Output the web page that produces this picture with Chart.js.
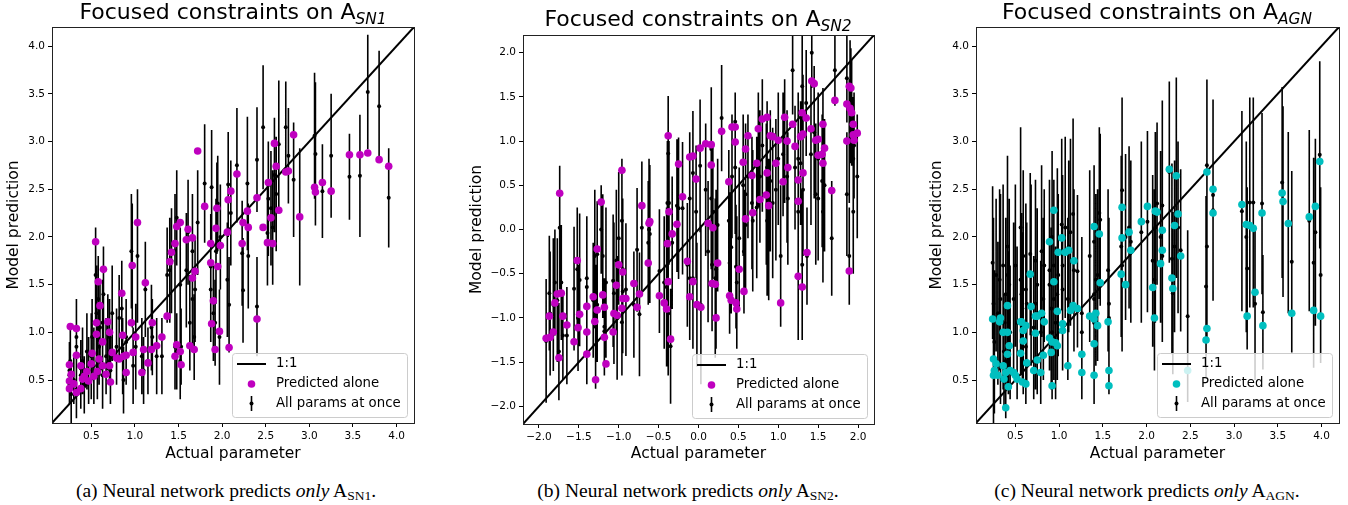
<!DOCTYPE html>
<html>
<head>
<meta charset="utf-8">
<script src="https://cdn.jsdelivr.net/npm/chart.js@4.4.1/dist/chart.umd.min.js"></script>
<style>
  body { margin: 0; background: #fff; width: 1348px; height: 505px; position: relative; overflow: hidden; font-family: 'DejaVu Sans', sans-serif; }
  canvas { position: absolute; top: 0; }
  .title { position: absolute; font-size: 22px; line-height: 1; white-space: nowrap; transform: translateX(-50%); color: #000; }
  .title .sub { position: relative; top: 5px; font-size: 15.4px; font-style: italic; }
  .caption { position: absolute; top: 481px; font-family: 'Liberation Serif', serif; font-size: 19.5px; line-height: 1; white-space: nowrap; transform: translateX(-50%); color: #000; }
  .caption sub { font-size: 13.5px; vertical-align: -3px; }
</style>
</head>
<body>
<canvas id="c1" width="440" height="470" style="left:0;width:440px;height:470px"></canvas>
<canvas id="c2" width="430" height="470" style="left:463px;width:430px;height:470px"></canvas>
<canvas id="c3" width="425" height="470" style="left:923px;width:425px;height:470px"></canvas>

<div class="title" style="left:233px;top:1px">Focused constraints on A<span class="sub">SN1</span></div>
<div class="title" style="left:698px;top:8px">Focused constraints on A<span class="sub">SN2</span></div>
<div class="title" style="left:1157px;top:1px">Focused constraints on A<span class="sub">AGN</span></div>

<div class="caption" style="left:226px">(a) Neural network predicts <i>only</i> A<sub>SN1</sub>.</div>
<div class="caption" style="left:688px">(b) Neural network predicts <i>only</i> A<sub>SN2</sub>.</div>
<div class="caption" style="left:1147px">(c) Neural network predicts <i>only</i> A<sub>AGN</sub>.</div>

<script>
// ---- panel (a): A_SN1 ----
const sn1Lim = [0.05, 4.2];
const sn1Ticks = [0.5, 1.0, 1.5, 2.0, 2.5, 3.0, 3.5, 4.0];
const sn1X = [
  0.25,0.25,0.26,0.25,0.27,0.30,0.33,0.33,0.33,0.38,
  0.38,0.40,0.42,0.45,0.47,0.50,0.51,0.53,0.55,0.56,
  0.56,0.57,0.58,0.59,0.60,0.63,0.63,0.64,0.67,0.69,
  0.71,0.71,0.72,0.74,0.79,0.82,0.85,0.86,0.87,0.90,
  0.90,0.96,0.97,0.98,1.01,1.03,1.08,1.10,1.12,1.15,
  1.19,1.20,1.25,1.31,1.37,1.40,1.42,1.46,1.46,1.48,
  1.48,1.52,1.52,1.53,1.59,1.61,1.63,1.66,1.66,1.68,
  1.69,1.72,1.80,1.87,1.87,1.88,1.90,1.92,1.93,1.94,
  1.95,1.97,1.98,2.06,2.07,2.08,2.10,2.17,2.23,2.24,
  2.29,2.30,2.40,2.40,2.47,2.52,2.53,2.56,2.58,2.60,
  2.62,2.65,2.73,2.76,2.82,2.89,3.06,3.07,3.15,3.25,
  3.46,3.58,3.67,3.80,3.91];
const sn1Alone = [
  0.49,0.41,1.06,0.66,0.56,0.46,1.04,0.76,0.37,0.65,
  0.41,0.51,0.54,0.59,0.49,0.67,0.78,0.54,1.95,1.10,
  0.98,0.59,1.53,0.72,1.28,0.90,0.65,1.66,0.56,1.11,
  1.00,0.65,0.48,0.79,0.73,0.72,1.41,0.97,0.75,0.76,
  0.58,1.10,1.70,0.79,0.95,2.15,0.58,0.82,1.52,0.68,
  0.82,1.10,0.86,0.95,1.17,1.74,1.84,1.93,0.75,2.11,
  0.87,2.15,0.80,0.66,1.97,2.08,0.86,1.99,1.57,0.82,
  1.64,2.90,2.32,1.93,1.73,1.09,1.33,0.82,2.09,2.30,
  1.69,1.01,1.91,2.05,2.39,0.84,2.48,2.66,1.93,2.15,
  2.27,2.10,2.41,1.14,2.10,1.94,2.57,2.20,1.93,2.98,
  2.74,2.28,2.68,2.69,3.07,2.21,2.52,2.47,2.57,2.48,
  2.86,2.86,2.88,2.81,2.74];
const sn1All = [
  0.55,0.45,0.70,0.60,0.35,0.50,0.85,0.95,0.40,0.55,
  0.62,0.70,0.45,0.80,0.60,0.75,0.95,0.65,1.60,1.20,
  0.98,0.70,1.35,0.85,1.05,1.10,0.55,1.40,0.75,1.00,
  0.95,0.80,0.60,1.20,0.85,1.15,1.25,0.75,0.50,0.90,
  0.95,1.85,1.70,0.65,0.85,1.80,0.75,0.60,1.45,0.70,
  1.05,0.95,0.75,0.75,1.60,1.65,1.75,1.85,0.85,2.20,
  0.80,1.50,0.70,0.85,1.65,2.05,1.10,1.85,1.35,0.95,
  1.45,2.15,2.56,1.69,1.45,2.52,1.20,1.10,1.85,2.30,
  2.35,0.95,2.00,1.55,2.55,1.29,2.25,2.75,1.83,1.44,
  2.56,1.80,2.81,1.27,3.15,2.04,2.40,2.30,2.10,2.65,
  2.45,2.97,3.15,2.85,2.60,2.21,3.06,2.87,2.48,2.85,
  2.63,2.64,3.52,3.37,2.41];
const sn1Err = [
  0.25,0.20,0.35,0.30,0.30,0.25,0.40,0.40,0.30,0.35,
  0.30,0.35,0.30,0.40,0.35,0.45,0.40,0.40,0.50,0.50,
  0.45,0.40,0.45,0.40,0.50,0.45,0.35,0.50,0.40,0.40,
  0.40,0.35,0.35,0.50,0.40,0.45,0.50,0.40,0.35,0.45,
  0.40,0.60,0.65,0.40,0.45,0.70,0.40,0.35,0.50,0.35,
  0.45,0.40,0.40,0.40,0.50,0.55,0.55,0.60,0.45,0.50,
  0.40,0.60,0.40,0.40,0.60,0.55,0.50,0.60,0.50,0.45,
  0.55,0.55,0.62,0.55,0.55,0.60,0.50,0.45,0.55,0.48,
  0.50,0.50,0.55,0.60,0.55,0.50,0.55,0.60,0.55,0.55,
  0.70,0.55,0.55,0.52,0.65,0.55,0.60,0.60,0.60,0.60,
  0.60,0.67,0.48,0.50,0.60,0.72,0.66,0.75,0.49,0.65,
  0.45,0.64,0.60,0.58,0.52];

// ---- panel (b): A_SN2 ----
const sn2Lim = [-2.2, 2.2];
const sn2Ticks = [-2.0, -1.5, -1.0, -0.5, 0.0, 0.5, 1.0, 1.5, 2.0];
const sn2X = [
  -1.91,-1.86,-1.82,-1.87,-1.80,-1.77,-1.74,-1.72,-1.75,-1.70,
  -1.65,-1.56,-1.52,-1.51,-1.49,-1.40,-1.40,-1.40,-1.32,-1.30,
  -1.27,-1.27,-1.29,-1.22,-1.20,-1.18,-1.18,-1.16,-1.07,-1.06,
  -1.03,-1.02,-1.00,-0.96,-0.95,-0.95,-0.96,-0.91,-0.81,-0.77,
  -0.74,-0.71,-0.62,-0.63,-0.61,-0.49,-0.43,-0.40,-0.38,-0.38,
  -0.39,-0.37,-0.33,-0.35,-0.27,-0.25,-0.20,-0.14,-0.11,-0.11,
  -0.07,-0.07,-0.03,-0.02,0.02,0.03,0.09,0.12,0.16,0.16,
  0.17,0.18,0.21,0.22,0.24,0.29,0.38,0.39,0.41,0.42,
  0.46,0.46,0.47,0.48,0.51,0.56,0.57,0.59,0.59,0.62,
  0.67,0.68,0.73,0.75,0.77,0.80,0.85,0.86,0.86,0.88,
  0.90,0.93,0.97,1.00,1.03,1.06,1.08,1.11,1.12,1.18,
  1.21,1.25,1.25,1.25,1.28,1.30,1.30,1.31,1.31,1.35,
  1.36,1.41,1.42,1.45,1.47,1.50,1.50,1.55,1.56,1.56,
  1.58,1.67,1.71,1.86,1.89,1.91,1.90,1.92,1.94,1.94,1.99,1.86,1.95,1.89];
const sn2Alone = [
  -1.23,-1.22,-1.16,-0.98,-0.83,-0.73,0.41,-0.72,-1.45,-0.98,
  -1.08,-1.27,-0.35,-1.11,-0.96,-1.41,-0.87,-1.16,-0.76,-1.04,
  -0.22,-0.91,-1.70,0.31,-0.74,-0.88,-1.22,-1.52,-1.16,-0.95,
  -0.63,-0.97,-0.40,0.67,-0.48,-0.78,-0.89,-0.78,-0.61,-0.88,
  -0.73,0.27,0.07,-0.38,0.09,-0.75,-0.83,-0.90,1.06,-0.59,
  -0.16,0.20,-0.05,-1.24,0.06,0.74,0.37,-0.36,0.82,-0.76,
  0.83,-0.59,0.57,-0.85,0.92,-0.88,0.97,0.07,0.96,0.73,
  -0.61,0.02,-0.62,-1.00,-0.38,1.11,0.54,-0.75,-0.80,1.16,
  1.16,0.99,-0.83,-0.90,-0.45,0.76,-0.70,0.91,0.12,1.06,
  0.61,0.19,0.75,1.14,0.34,1.25,0.39,1.27,0.64,0.27,
  1.06,1.05,0.75,1.01,-0.83,0.54,1.27,1.00,0.70,1.19,
  0.94,0.56,0.32,-0.53,1.05,1.32,-0.65,0.64,1.08,1.26,
  -0.26,1.14,1.68,1.65,1.01,1.02,0.84,0.85,0.75,1.19,
  0.92,0.44,1.46,1.42,1.62,1.60,1.37,1.32,1.19,1.07,1.09,1.00,1.01,-0.47];
const sn2All = [
  -1.26,-0.95,-0.85,-0.72,-0.60,-0.80,0.02,-0.60,-1.38,-1.20,
  -1.20,-0.67,-0.45,-1.00,-0.57,-1.15,-0.55,-0.65,-0.80,-0.30,
  -0.28,-0.85,-1.10,0.00,-0.30,-1.10,-1.15,-0.60,-0.58,-0.72,
  -0.35,-1.00,-0.10,0.10,-0.45,-0.70,-1.05,-0.68,-0.85,-0.23,
  -0.96,0.02,0.00,-0.15,-0.05,-0.47,-0.60,-0.65,0.86,-0.95,
  0.30,0.30,-0.15,-1.32,0.27,0.24,0.24,-0.40,0.35,-0.55,
  0.64,-0.55,0.20,-0.85,0.72,-0.85,0.45,-0.25,0.91,0.35,
  -0.40,0.20,-0.55,-0.45,0.05,1.26,0.10,-0.38,-0.20,0.60,
  1.22,0.70,-0.42,-0.60,-0.10,0.50,-0.25,0.40,0.05,0.60,
  0.30,0.10,0.25,0.90,0.60,0.95,0.40,0.70,0.10,0.00,
  0.55,0.30,0.45,0.80,-0.30,0.85,1.00,0.60,0.35,1.80,
  0.70,0.80,0.20,-0.55,0.75,1.62,-0.40,0.45,1.05,1.43,
  -0.30,0.85,2.00,1.10,0.40,0.80,0.35,0.55,0.20,0.90,
  0.50,-0.10,1.80,1.71,1.00,1.40,1.59,1.32,0.80,0.20,0.60,0.40,0.95,-0.30];
const sn2Err = [
  0.70,0.70,0.75,0.65,0.60,0.70,0.70,0.65,0.55,0.50,
  0.55,0.70,0.70,0.60,0.75,0.60,0.70,0.80,0.65,0.75,
  0.60,0.65,0.70,0.50,0.70,0.55,0.50,0.85,0.75,0.80,
  0.80,0.70,0.75,0.70,0.80,0.70,0.60,0.75,0.60,0.70,
  0.70,0.75,0.80,0.70,0.78,0.70,0.75,0.90,0.65,0.70,
  0.70,0.70,0.75,0.65,0.75,0.80,0.75,0.70,0.75,0.70,
  0.70,0.80,0.75,0.70,0.75,0.90,0.75,0.80,0.70,0.80,
  0.75,0.75,0.90,0.90,0.75,0.60,0.80,0.80,0.75,0.70,
  0.33,0.75,0.70,0.75,0.80,0.80,0.70,0.80,0.75,0.70,
  0.75,0.80,0.80,0.65,0.75,0.75,0.80,0.75,0.85,0.80,
  0.80,0.85,0.80,0.75,0.80,0.70,0.70,0.75,0.75,0.50,
  0.70,0.75,0.80,0.70,0.70,0.60,0.85,0.75,0.70,0.60,
  0.55,0.80,0.40,0.75,0.80,0.75,0.70,0.75,0.80,0.70,
  0.75,0.65,0.40,0.50,0.70,0.65,0.55,0.60,0.70,0.70,0.70,0.70,0.60,0.55];

// ---- panel (c): A_AGN ----
const agnLim = [0.05, 4.2];
const agnTicks = [0.5, 1.0, 1.5, 2.0, 2.5, 3.0, 3.5, 4.0];
const agnX = [
  0.24,0.25,0.26,0.25,0.28,0.30,0.32,0.33,0.36,0.36,
  0.37,0.39,0.39,0.41,0.41,0.42,0.43,0.41,0.44,0.48,
  0.50,0.52,0.56,0.56,0.57,0.58,0.59,0.59,0.62,0.62,
  0.63,0.67,0.68,0.71,0.73,0.73,0.75,0.75,0.79,0.80,
  0.83,0.82,0.89,0.89,0.91,0.92,0.92,0.94,0.94,0.96,
  0.98,0.98,0.99,1.03,1.04,1.04,1.07,1.10,1.11,1.13,
  1.16,1.17,1.21,1.26,1.26,1.35,1.40,1.40,1.40,1.40,
  1.42,1.44,1.46,1.47,1.56,1.57,1.57,1.71,1.72,1.72,
  1.76,1.80,1.82,1.94,2.01,2.07,2.09,2.10,2.12,2.16,
  2.18,2.18,2.26,2.29,2.30,2.32,2.34,2.36,2.39,2.47,
  2.68,2.69,2.69,2.76,2.76,3.09,3.14,3.15,3.18,3.22,
  3.24,3.32,3.33,3.55,3.56,3.62,3.66,3.86,3.91,3.93,3.98,3.99];
const agnAlone = [
  1.14,0.72,0.60,0.55,0.67,0.55,1.11,1.15,1.00,0.65,
  0.51,0.58,0.21,1.28,1.00,0.43,0.86,0.77,0.60,0.58,
  0.55,0.51,0.78,1.11,1.11,0.48,1.02,0.91,1.07,0.46,
  0.68,1.61,1.27,0.60,1.17,0.99,1.17,0.71,0.58,1.20,
  1.11,0.76,1.95,0.94,0.79,0.90,0.44,2.28,1.53,0.89,
  1.22,0.86,1.84,1.99,1.02,1.09,1.84,0.65,1.86,1.23,
  1.28,1.75,1.25,0.77,0.58,1.17,2.11,1.14,0.88,0.55,
  1.20,1.07,2.03,1.52,1.11,0.60,0.44,1.61,2.31,1.99,
  1.50,2.05,1.86,2.16,2.32,1.47,1.15,2.27,2.26,1.72,
  2.07,1.86,2.71,1.57,1.46,2.12,2.64,2.24,1.80,0.60,
  0.92,1.04,2.68,2.50,2.25,2.34,2.13,1.17,2.12,2.09,
  1.42,2.25,1.07,2.46,2.37,2.14,1.20,2.21,1.23,2.32,2.79,1.17];
const agnAll = [
  1.73,1.30,0.90,0.55,1.60,1.20,1.55,1.35,1.70,1.10,
  0.80,1.40,0.70,1.90,1.60,1.10,1.50,1.25,1.00,1.35,
  1.70,1.10,1.55,2.10,1.40,1.25,1.80,1.10,1.45,0.85,
  1.30,1.82,1.60,1.05,1.75,1.30,1.50,1.20,1.00,1.85,
  1.70,1.35,1.65,1.50,1.25,2.00,1.00,1.70,1.35,1.10,
  1.84,1.40,1.60,2.13,1.45,1.70,2.10,1.35,1.90,2.05,
  2.24,1.65,1.64,1.20,1.00,1.80,1.95,1.35,1.40,1.10,
  1.55,1.60,2.25,2.18,1.65,1.30,1.15,1.90,2.49,1.70,
  2.00,2.10,1.95,2.05,2.16,1.75,1.55,2.10,2.35,2.00,
  2.33,1.80,2.68,1.77,1.41,1.90,2.62,2.10,1.86,1.17,
  1.48,1.90,2.75,2.44,2.28,2.27,2.00,1.67,2.36,2.36,
  1.30,2.35,1.21,2.57,2.37,2.15,1.74,2.17,1.73,2.05,2.86,1.60];
const agnErr = [
  0.80,0.90,0.75,0.50,0.80,0.75,0.95,1.10,0.85,0.70,
  0.60,0.80,0.60,0.95,0.90,0.75,0.90,0.80,0.70,0.80,
  0.85,0.80,1.00,1.05,0.85,0.80,0.90,0.75,0.90,0.60,
  0.85,0.85,0.95,0.75,0.85,0.90,0.80,0.85,0.75,0.90,
  0.80,0.85,0.95,0.90,0.85,0.90,0.70,0.90,0.85,0.80,
  0.88,0.90,0.85,0.90,0.85,0.95,0.95,0.85,0.90,0.98,
  1.00,0.85,0.80,0.80,0.70,0.90,0.80,0.90,0.85,0.85,
  0.90,0.90,0.90,0.90,0.85,0.90,0.80,0.95,0.97,0.90,
  0.87,0.85,0.85,0.95,0.95,0.90,0.95,1.00,0.85,0.90,
  1.10,0.90,0.95,1.00,0.85,0.90,1.05,0.90,0.85,0.90,
  0.95,0.95,0.90,1.00,0.95,1.05,1.00,0.85,1.10,1.10,
  0.80,0.95,0.60,1.00,1.00,0.95,0.95,0.95,1.10,0.98,0.98,0.92];

const legendLabels = ["1:1", "Predicted alone", "All params at once"];
const MAGENTA = "#bf00bf";
const CYAN = "#00bfbf";

Chart.defaults.font.family = "'DejaVu Sans', sans-serif";
Chart.defaults.color = "#000";

const fmtTick = v => (v < 0 ? "\u2212" : "") + Math.abs(v).toFixed(1);

function makePanel(id, p) {
  // error bars of "all params at once", drawn under the markers, clipped to the axes
  const errBars = {
    id: "errBars",
    beforeDatasetsDraw(chart) {
      const { ctx, chartArea: a, scales: { x, y } } = chart;
      ctx.save();
      ctx.beginPath(); ctx.rect(a.left, a.top, a.right - a.left, a.bottom - a.top); ctx.clip();
      ctx.strokeStyle = "#000"; ctx.lineWidth = 1.6;
      ctx.beginPath();
      p.x.forEach((v, i) => {
        const px = x.getPixelForValue(v);
        ctx.moveTo(px, y.getPixelForValue(p.all[i] - p.err[i]));
        ctx.lineTo(px, y.getPixelForValue(p.all[i] + p.err[i]));
      });
      ctx.stroke();
      ctx.restore();
    }
  };
  // full box frame + legend box in the lower right
  const frameLegend = {
    id: "frameLegend",
    afterDraw(chart) {
      const { ctx, chartArea: a } = chart;
      ctx.save();
      ctx.strokeStyle = "#222"; ctx.lineWidth = 1;
      ctx.strokeRect(a.left + 0.5, a.top + 0.5, a.right - a.left, a.bottom - a.top);

      const w = 175, h = 64;
      const x0 = a.right - 7 - w, y0 = a.bottom - 6 - h;
      ctx.beginPath();
      ctx.roundRect(x0 + 0.5, y0 + 0.5, w, h, 3);
      ctx.fillStyle = "rgba(255,255,255,0.8)"; ctx.fill();
      ctx.strokeStyle = "#cccccc"; ctx.stroke();

      const hx = x0 + 19.5;
      ctx.strokeStyle = "#000"; ctx.lineWidth = 2;
      ctx.beginPath(); ctx.moveTo(x0 + 5, y0 + 11); ctx.lineTo(x0 + 34, y0 + 11); ctx.stroke();
      ctx.fillStyle = p.color;
      ctx.beginPath(); ctx.arc(hx, y0 + 31, 3.8, 0, Math.PI * 2); ctx.fill();
      ctx.lineWidth = 1.6;
      ctx.beginPath(); ctx.moveTo(hx, y0 + 43); ctx.lineTo(hx, y0 + 58); ctx.stroke();
      ctx.fillStyle = "#000";
      ctx.beginPath(); ctx.arc(hx, y0 + 50.5, 2, 0, Math.PI * 2); ctx.fill();

      ctx.font = "13.3px 'DejaVu Sans'";
      ctx.textBaseline = "middle";
      legendLabels.forEach((t, i) => ctx.fillText(t, x0 + 44, y0 + 11 + i * 20));
      ctx.restore();
    }
  };

  const axis = (ticks, title) => ({
    type: "linear",
    afterBuildTicks: s => { s.ticks = ticks.map(v => ({ value: v })); },
    grid: { display: true, drawOnChartArea: false, drawTicks: true, tickLength: 4, color: "#000", lineWidth: 1 },
    border: { display: false },
    ticks: { autoSkip: false, maxRotation: 0, padding: 3, color: "#000", font: { size: 10.5 }, callback: fmtTick },
    title: { display: true, text: title, color: "#000", font: { size: 15.5 }, padding: { top: 5, bottom: 7 } }
  });

  const xs = Object.assign(axis(p.ticks, "Actual parameter"), { min: p.lim[0], max: p.lim[1], afterFit: s => { s.height = p.xh; } });
  const ys = Object.assign(axis(p.ticks, "Model prediction"), { min: p.lim[0], max: p.lim[1], afterFit: s => { s.width = p.yw; } });

  return new Chart(document.getElementById(id), {
    type: "scatter",
    data: {
      datasets: [
        { type: "line", label: legendLabels[0], data: [{ x: p.lim[0], y: p.lim[0] }, { x: p.lim[1], y: p.lim[1] }],
          borderColor: "#000", borderWidth: 2, pointRadius: 0, order: 2 },
        { label: legendLabels[2], data: p.x.map((v, i) => ({ x: v, y: p.all[i] })),
          backgroundColor: "#000", borderWidth: 0, pointRadius: 2, order: 3 },
        { label: legendLabels[1], data: p.x.map((v, i) => ({ x: v, y: p.alone[i] })),
          backgroundColor: p.color, borderWidth: 0, pointRadius: 3.8, order: 1 }
      ]
    },
    options: {
      responsive: false, animation: false, devicePixelRatio: 1, events: [],
      layout: { padding: { left: 0, top: p.pt, right: p.pr, bottom: 0 } },
      plugins: { legend: { display: false }, tooltip: { enabled: false } },
      scales: { x: xs, y: ys }
    },
    plugins: [errBars, frameLegend]
  });
}

makePanel("c1", { x: sn1X, alone: sn1Alone, all: sn1All, err: sn1Err, lim: sn1Lim, ticks: sn1Ticks,
  color: MAGENTA, yw: 52, xh: 47, pt: 27, pr: 26 });
makePanel("c2", { x: sn2X, alone: sn2Alone, all: sn2All, err: sn2Err, lim: sn2Lim, ticks: sn2Ticks,
  color: MAGENTA, yw: 60, xh: 46, pt: 35, pr: 19 });
makePanel("c3", { x: agnX, alone: agnAlone, all: agnAll, err: agnErr, lim: agnLim, ticks: agnTicks,
  color: CYAN, yw: 53, xh: 47, pt: 27, pr: 9 });
</script>
</body>
</html>
